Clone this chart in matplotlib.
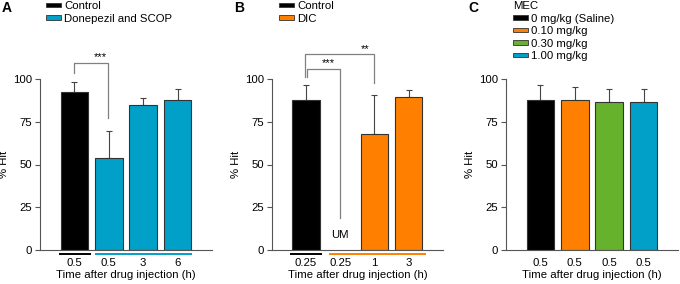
import matplotlib
matplotlib.use('Agg')
import matplotlib.pyplot as plt
from matplotlib.patches import Patch

plt.rcParams.update({'font.family': ['Liberation Sans', 'DejaVu Sans'], 'font.size': 8.2})

BLACK = '#000000'
BLUE = '#00a0c8'
ORANGE = '#ff8000'
GREEN = '#66b22c'
EDGE = '#333333'
GRAY = '#808080'

# panel A
a_labels = ['0.5', '0.5', '3', '6']
a_vals = [92.4, 54.0, 84.8, 87.9]
a_err = [5.6, 15.4, 3.9, 6.1]
a_colors = [BLACK, BLUE, BLUE, BLUE]

# panel B (second group is unmeasured)
b_labels = ['0.25', '0.25', '1', '3']
b_vals = [87.5, 0.0, 67.8, 89.5]
b_err = [8.8, 0.0, 22.6, 3.9]
b_colors = [BLACK, 'none', ORANGE, ORANGE]

# panel C
c_labels = ['0.5', '0.5', '0.5', '0.5']
c_vals = [87.5, 87.9, 86.4, 86.5]
c_err = [8.8, 7.2, 7.6, 7.7]
c_colors = [BLACK, ORANGE, GREEN, BLUE]
c_legend = ['0 mg/kg (Saline)', '0.10 mg/kg', '0.30 mg/kg', '1.00 mg/kg']

W, H = 680, 284
fig = plt.figure(figsize=(W / 100, H / 100), dpi=100)

LEG = dict(loc='upper left', bbox_transform=fig.transFigure, frameon=False, fontsize=8.2,
           handlelength=1.3, handleheight=0.2, handletextpad=0.3,
           labelspacing=0.22, borderpad=0.1, borderaxespad=0)


def make_axes(x0, x1):
    return fig.add_axes([x0 / W, 1 - 250 / H, (x1 - x0) / W, 171 / H])


def draw_panel(ax, vals, err, colors, labels, skip=()):
    x = list(range(len(vals)))
    for i in x:
        if i in skip:
            continue
        ax.bar(i, vals[i], width=0.8, color=colors[i], edgecolor=EDGE, linewidth=0.8, zorder=2)
        ax.errorbar(i, vals[i], yerr=[[0], [err[i]]], fmt='none', ecolor='#444444',
                    elinewidth=0.8, capsize=2.2, capthick=0.8, zorder=1)
    ax.set_xlim(-1, 4)
    ax.set_ylim(0, 100)
    ax.set_yticks([0, 25, 50, 75, 100])
    ax.set_xticks(x)
    ax.set_xticklabels(labels)
    ax.tick_params(axis='x', length=0, pad=6)
    ax.tick_params(axis='y', length=3.5, width=0.8, pad=2, color='#555555')
    for s in ['top', 'right']:
        ax.spines[s].set_visible(False)
    for s in ['left', 'bottom']:
        ax.spines[s].set_color('#555555')
        ax.spines[s].set_linewidth(0.8)
    ax.set_ylabel('% Hit', labelpad=3)
    ax.set_xlabel('Time after drug injection (h)', labelpad=1.5)


def underline(ax, x0, x1, color):
    ax.plot([x0, x1], [-0.025, -0.025], color=color, lw=1.4,
            transform=ax.get_xaxis_transform(), clip_on=False, solid_capstyle='butt')


def bracket(ax, x0, x1, y_left, y_top, y_right, stars, sx):
    ax.plot([x0, x0, x1, x1], [y_left, y_top, y_top, y_right], color=GRAY, lw=0.9,
            clip_on=False, zorder=3)
    ax.text(sx, y_top + 0.3, stars, ha='center', va='bottom', fontsize=8, clip_on=False)


# Panel A
axA = make_axes(40, 212)
draw_panel(axA, a_vals, a_err, a_colors, a_labels)
underline(axA, -0.46, 0.47, BLACK)
underline(axA, 0.59, 3.42, BLUE)
bracket(axA, 0.0, 0.98, 103.5, 109.5, 77, '***', 0.74)
axA.legend(handles=[Patch(facecolor=BLACK, edgecolor=EDGE, lw=0.6, label='Control'),
                    Patch(facecolor=BLUE, edgecolor=EDGE, lw=0.6, label='Donepezil and SCOP')],
           bbox_to_anchor=(45 / W, 1.0), **LEG)

# Panel B
axB = make_axes(271.7, 443)
draw_panel(axB, b_vals, b_err, b_colors, b_labels, skip=(1,))
underline(axB, -0.46, 0.46, BLACK)
underline(axB, 0.66, 3.5, ORANGE)
axB.text(1, 9, 'UM', ha='center', va='center')
bracket(axB, 0.03, 0.99, 101, 105.8, 18.6, '***', 0.66)
bracket(axB, -0.03, 2.0, 101, 114.4, 97.5, '**', 1.72)
axB.legend(handles=[Patch(facecolor=BLACK, edgecolor=EDGE, lw=0.6, label='Control'),
                    Patch(facecolor=ORANGE, edgecolor=EDGE, lw=0.6, label='DIC')],
           bbox_to_anchor=(277.7 / W, 1.0), **LEG)

# Panel C
axC = make_axes(506, 678)
draw_panel(axC, c_vals, c_err, c_colors, c_labels)
axC.legend(handles=[Patch(facecolor=c, edgecolor=EDGE, lw=0.6, label=l)
                    for c, l in zip(c_colors, c_legend)],
           title='MEC', title_fontsize=8.2, alignment='left',
           bbox_to_anchor=(511.7 / W, 1.0), **LEG)

for lab, px in [('A', 2), ('B', 234), ('C', 468)]:
    fig.text(px / W, 1 - 1 / H, lab, fontsize=10, fontweight='bold', ha='left', va='top')

fig.savefig('out.png', dpi=100)
